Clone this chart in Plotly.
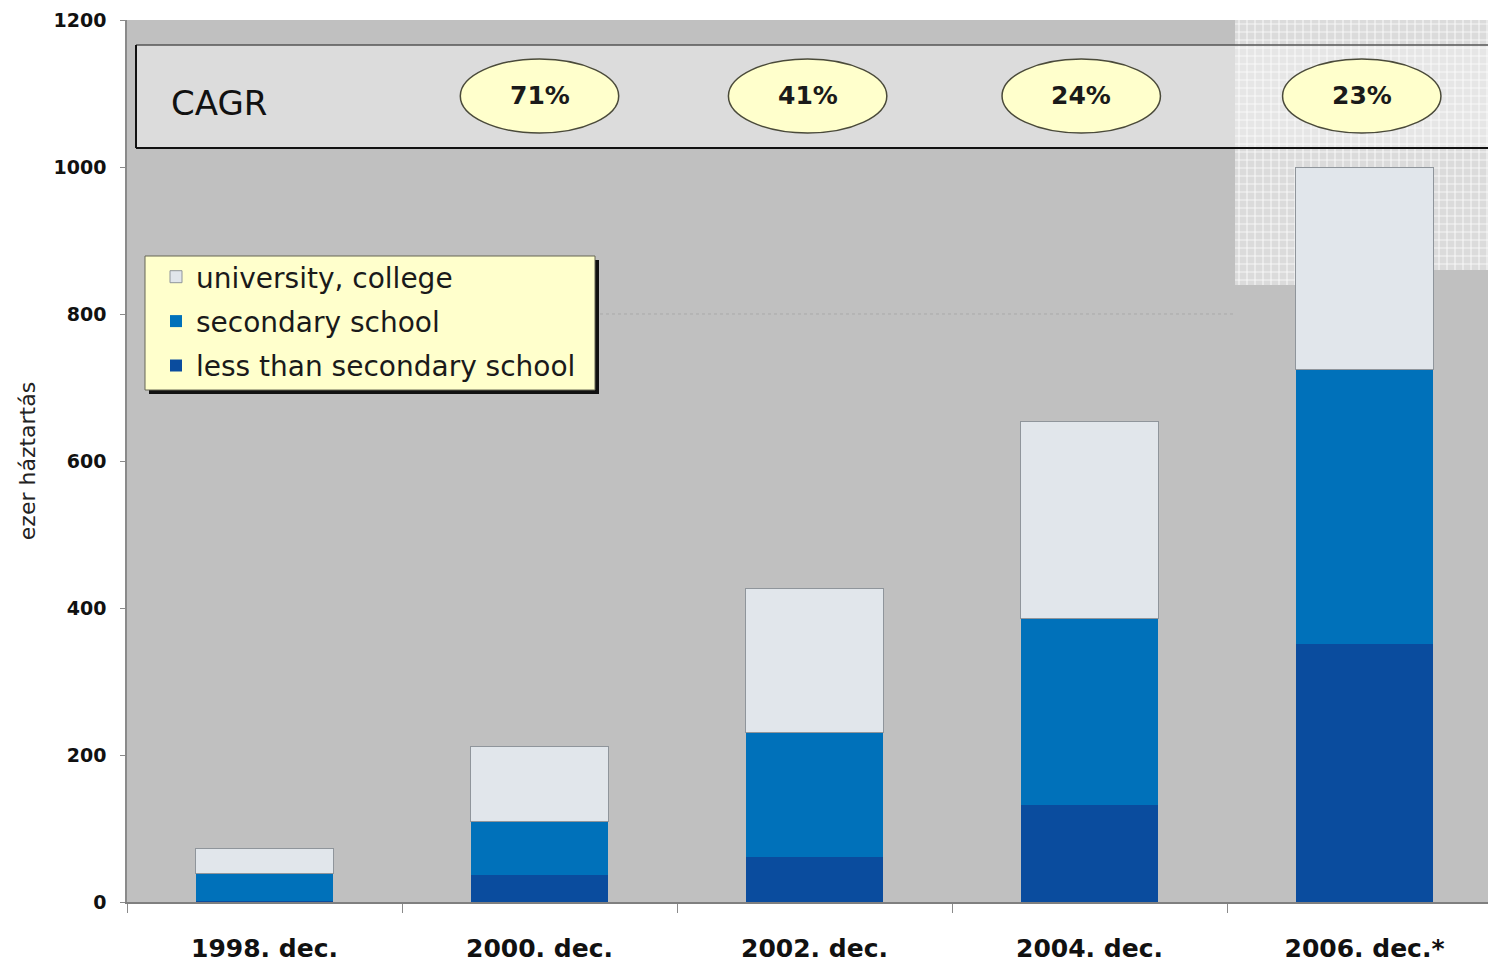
import numpy as np
import plotly.graph_objects as go

# Households by education level of head (thousand households)
categories = ["1998. dec.", "2000. dec.", "2002. dec.", "2004. dec.", "2006. dec.*"]
less_than_secondary = [2, 37, 61, 132, 351]
secondary_school = [37, 73, 169, 254, 373]
university_college = [34, 102, 196, 268, 276]

# compound annual growth rates between consecutive periods
cagr_labels = ["71%", "41%", "24%", "23%"]
cagr_positions = [1.0, 1.975, 2.97, 3.99]

y_ticks = [0, 200, 400, 600, 800, 1000, 1200]

FONT = "DejaVu Sans"
C_LESS = "#0A4C9E"
C_SEC = "#0071BA"
C_UNI = "#E1E6EB"
BG = "#C0C0C0"

# plot-area geometry (pixels) used to place decorations
L, R, T, B = 127, 1488, 20, 902


def px(xp):
    return (xp - L) / (R - L)


def py(yp):
    return (B - yp) / (B - T)


fig = go.Figure()

fig.add_trace(go.Bar(
    x=categories, y=less_than_secondary, name="less than secondary school",
    marker=dict(color=C_LESS, line=dict(width=0)), legendgroup="c", legendrank=3,
))
fig.add_trace(go.Bar(
    x=categories, y=secondary_school, name="secondary school",
    marker=dict(color=C_SEC, line=dict(width=0)), legendgroup="b", legendrank=2,
))
fig.add_trace(go.Bar(
    x=categories, y=university_college, name="university, college",
    marker=dict(color=C_UNI, line=dict(width=1, color="#8F959B")), legendgroup="a",
    legendrank=1,
))

shapes = []

# CAGR band background
shapes.append(dict(type="rect", xref="paper", yref="paper",
                   x0=px(136), x1=1.02, y0=py(148), y1=py(45),
                   fillcolor="#DCDCDC", line=dict(width=0), layer="below"))

# light checkered area in the upper right
hx0, hx1, hy1 = 1235, 1488, 20
shapes.append(dict(type="path", xref="paper", yref="paper",
                   path=(f"M{px(hx0)},{py(hy1)} L{px(hx1)},{py(hy1)} L{px(hx1)},{py(270)} "
                         f"L{px(1378)},{py(270)} L{px(1378)},{py(285)} L{px(hx0)},{py(285)} Z"),
                   fillcolor="rgba(236,236,236,0.6)", line=dict(width=0), layer="below"))
for xv in np.arange(hx0 + 4, hx1, 8):
    ybot = 285 if xv < 1378 else 270
    shapes.append(dict(type="line", xref="paper", yref="paper",
                       x0=px(xv), x1=px(xv), y0=py(hy1), y1=py(ybot),
                       line=dict(color="rgba(255,255,255,0.7)", width=1.2), layer="below"))
for yv in np.arange(hy1 + 4, 285, 8):
    xend = hx1 if yv < 270 else 1378
    shapes.append(dict(type="line", xref="paper", yref="paper",
                       x0=px(hx0), x1=px(xend), y0=py(yv), y1=py(yv),
                       line=dict(color="rgba(255,255,255,0.7)", width=1.2), layer="below"))

# faint dotted gridline at 800
shapes.append(dict(type="line", xref="paper", yref="y",
                   x0=px(600), x1=px(1235), y0=800, y1=800,
                   line=dict(color="#A9A9A9", width=1, dash="dot"), layer="below"))

# CAGR band border
shapes.append(dict(type="line", xref="paper", yref="paper",
                   x0=px(136), x1=1.02, y0=py(45), y1=py(45),
                   line=dict(color="#555555", width=1.5)))
shapes.append(dict(type="line", xref="paper", yref="paper",
                   x0=px(136), x1=1.02, y0=py(148), y1=py(148),
                   line=dict(color="#111111", width=2)))
shapes.append(dict(type="line", xref="paper", yref="paper",
                   x0=px(136), x1=px(136), y0=py(148), y1=py(45),
                   line=dict(color="#111111", width=2)))

# ellipses holding the growth rates
ew, eh_top, eh_bot = 0.288, py(59), py(133)
for xc in cagr_positions:
    shapes.append(dict(type="circle", xref="x", yref="paper",
                       x0=xc - ew, x1=xc + ew, y0=eh_bot, y1=eh_top,
                       fillcolor="#FFFFCC", line=dict(color="#4A4A3A", width=1.5)))

# legend box with drop shadow
shapes.append(dict(type="rect", xref="paper", yref="paper",
                   x0=px(149), x1=px(599), y0=py(394), y1=py(260),
                   fillcolor="#111111", line=dict(width=0)))
shapes.append(dict(type="rect", xref="paper", yref="paper",
                   x0=px(145), x1=px(595), y0=py(390), y1=py(256),
                   fillcolor="#FFFFCC", line=dict(color="#666655", width=1)))

annotations = [dict(text="CAGR", xref="paper", yref="paper", x=px(169), y=py(103),
                    xanchor="left", yanchor="middle", showarrow=False,
                    font=dict(family=FONT, size=34, color="#111111"))]
for xc, lab in zip(cagr_positions, cagr_labels):
    annotations.append(dict(text=f"<b>{lab}</b>", xref="x", yref="paper", x=xc,
                            y=py(96), showarrow=False, xanchor="center", yanchor="middle",
                            font=dict(family=FONT, size=25, color="#1A1A1A")))

fig.update_layout(
    width=1488, height=967,
    margin=dict(l=L, r=1488 - R, t=T, b=967 - B, pad=0),
    paper_bgcolor="white", plot_bgcolor=BG,
    barmode="stack", bargap=0.5,
    showlegend=True,
    legend=dict(x=px(156), y=py(252), xanchor="left", yanchor="top",
                bgcolor="rgba(0,0,0,0)", borderwidth=0,
                traceorder="grouped", tracegroupgap=5,
                font=dict(family=FONT, size=28, color="#1A1A1A")),
    shapes=shapes, annotations=annotations,
    xaxis=dict(type="category", range=[-0.5, 4.5 - (1502 - R) / 275],
               showline=True, linecolor="#7F7F7F", linewidth=1.5,
               ticks="outside", tickson="boundaries", ticklen=9, tickcolor="#8A8A8A",
               ticklabelstandoff=23, showgrid=False,
               tickfont=dict(family=FONT, size=25, color="#111111", weight="bold")),
    yaxis=dict(range=[0, 1200], tickvals=y_ticks, showgrid=False, zeroline=False,
               showline=True, linecolor="#8A8A8A", linewidth=1.5,
               ticks="outside", ticklen=5, tickcolor="#8A8A8A", ticklabelstandoff=10,
               tickfont=dict(family=FONT, size=19, color="#111111", weight="bold"),
               title=dict(text="ezer háztartás", standoff=12,
                          font=dict(family=FONT, size=22, color="#222222"))),
)

fig.write_html("out.html")
